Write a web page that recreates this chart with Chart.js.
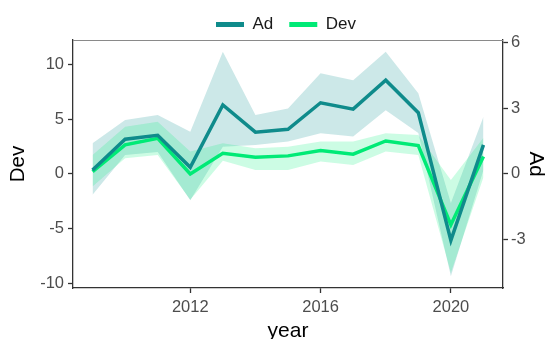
<!DOCTYPE html>
<html>
<head>
<meta charset="utf-8">
<script src="https://cdn.jsdelivr.net/npm/chart.js@4/dist/chart.umd.min.js"></script>
<style>
  html, body { margin: 0; padding: 0; background: #fff; }
  #wrap { width: 552px; height: 339px; }
</style>
</head>
<body>
<div id="wrap"><canvas id="trendChart" width="552" height="339"></canvas></div>
<script>
// data
const years = [2009, 2010, 2011, 2012, 2013, 2014, 2015, 2016, 2017, 2018, 2019, 2020, 2021];

const adMean  = [0.18, 1.58, 1.76, 0.30, 3.14, 1.90, 2.03, 3.24, 2.95, 4.27, 2.79, -3.03, 1.32];
const adUpper = [1.40, 2.45, 2.68, 1.92, 5.56, 2.68, 2.98, 4.58, 4.27, 5.56, 3.67, -1.33, 2.60];
const adLower = [-0.95, 0.86, 1.00, -1.20, 1.24, 1.32, 1.47, 1.85, 1.70, 2.90, 1.86, -4.67, 0.18];

const devMean  = [0.21, 2.64, 3.24, 0.00, 1.88, 1.52, 1.64, 2.12, 1.79, 3.00, 2.58, -4.64, 1.58];
const devUpper = [1.73, 4.30, 4.76, 2.03, 2.79, 2.33, 2.48, 2.94, 2.94, 3.70, 3.55, -0.55, 3.30];
const devLower = [-1.15, 1.42, 1.73, -2.36, 1.20, 0.36, 0.36, 1.12, 0.82, 2.03, 1.73, -9.00, -0.30];

const xTicks = [2012, 2016, 2020];
const devTicks = [-10, -5, 0, 5, 10];
const adTicks = [-3, 0, 3, 6];

const AD_COLOR = "#0f8b8b";
const DEV_COLOR = "#00ea76";
const AD_FILL = "rgba(0, 139, 139, 0.2)";
const DEV_FILL = "rgba(0, 238, 118, 0.2)";

const FONT = "'Liberation Sans', Arial, sans-serif";
const AXIS_COLOR = "#333333";
const TICK_TEXT = "#4d4d4d";

function points(values) {
  return values.map((v, i) => ({ x: years[i], y: v }));
}

function fixedTicks(list) {
  return function (scale) {
    scale.ticks = list.map((v) => ({ value: v }));
  };
}

// gray top border of the panel, fixed legend height, legend nudged right
const framePlugin = {
  id: "frame",
  beforeInit(chart) {
    const legend = chart.legend;
    const fit = legend.fit;
    legend.fit = function () {
      fit.bind(legend)();
      this.height = 40;
    };
    const draw = legend.draw;
    legend.draw = function () {
      chart.ctx.save();
      chart.ctx.translate(10, 0);
      draw.bind(legend)();
      chart.ctx.restore();
    };
  },
  afterDraw(chart) {
    const a = chart.chartArea;
    const ctx = chart.ctx;
    ctx.save();
    ctx.strokeStyle = "#8a8a8a";
    ctx.lineWidth = 1;
    ctx.beginPath();
    ctx.moveTo(a.left, a.top + 0.5);
    ctx.lineTo(a.right, a.top + 0.5);
    ctx.stroke();
    ctx.restore();
  },
};

const ctx = document.getElementById("trendChart");
new Chart(ctx, {
  type: "line",
  data: {
    datasets: [
      {
        label: "Ad",
        data: points(adMean),
        yAxisID: "y2",
        borderColor: AD_COLOR,
        backgroundColor: AD_COLOR,
        borderWidth: 3.5,
        pointRadius: 0,
        fill: false,
        order: 0,
      },
      {
        label: "Dev",
        data: points(devMean),
        yAxisID: "y",
        borderColor: DEV_COLOR,
        backgroundColor: DEV_COLOR,
        borderWidth: 3.5,
        pointRadius: 0,
        fill: false,
        order: 1,
      },
      {
        label: "Ad upper",
        data: points(adUpper),
        yAxisID: "y2",
        borderWidth: 0,
        pointRadius: 0,
        backgroundColor: AD_FILL,
        fill: "+1",
        order: 3,
      },
      {
        label: "Ad lower",
        data: points(adLower),
        yAxisID: "y2",
        borderWidth: 0,
        pointRadius: 0,
        fill: false,
        order: 3,
      },
      {
        label: "Dev upper",
        data: points(devUpper),
        yAxisID: "y",
        borderWidth: 0,
        pointRadius: 0,
        backgroundColor: DEV_FILL,
        fill: "+1",
        order: 2,
      },
      {
        label: "Dev lower",
        data: points(devLower),
        yAxisID: "y",
        borderWidth: 0,
        pointRadius: 0,
        fill: false,
        order: 2,
      },
    ],
  },
  options: {
    responsive: false,
    animation: false,
    layout: { padding: 0 },
    elements: { line: { tension: 0 } },
    plugins: {
      tooltip: { enabled: false },
      legend: {
        position: "top",
        labels: {
          color: "#1a1a1a",
          font: { family: FONT, size: 17 },
          boxWidth: 28,
          boxHeight: 5,
          padding: 16,
          generateLabels: function (chart) {
            return Chart.defaults.plugins.legend.labels
              .generateLabels(chart)
              .filter((l) => l.datasetIndex < 2)
              .map((l) => Object.assign(l, { lineWidth: 0 }));
          },
        },
      },
    },
    scales: {
      x: {
        type: "linear",
        position: "bottom",
        min: 2008.4,
        max: 2021.6,
        afterBuildTicks: fixedTicks(xTicks),
        afterFit: (scale) => { scale.height = 51; },
        grid: { drawOnChartArea: false, tickLength: 5, tickColor: AXIS_COLOR, tickWidth: 1.3 },
        border: { color: AXIS_COLOR, width: 1.3 },
        ticks: {
          color: TICK_TEXT,
          font: { family: FONT, size: 16.5 },
          padding: 5,
          maxRotation: 0,
          callback: (v) => String(v),
        },
        title: {
          display: true,
          text: "year",
          color: "#000",
          font: { family: FONT, size: 21 },
          padding: { top: 0, bottom: -5 },
        },
      },
      y: {
        position: "left",
        min: -10.4,
        max: 12.2,
        afterBuildTicks: fixedTicks(devTicks),
        afterFit: (scale) => { scale.width = 73; },
        grid: { drawOnChartArea: false, tickLength: 5, tickColor: AXIS_COLOR, tickWidth: 1.3 },
        border: { color: AXIS_COLOR, width: 1.3 },
        ticks: {
          color: TICK_TEXT,
          font: { family: FONT, size: 16.5 },
          padding: 4,
        },
        title: {
          display: true,
          text: "Dev",
          color: "#000",
          font: { family: FONT, size: 20.5 },
          padding: { top: 6, bottom: 0 },
        },
      },
      y2: {
        position: "right",
        min: -5.2,
        max: 6.1,
        afterBuildTicks: fixedTicks(adTicks),
        afterFit: (scale) => { scale.width = 49; },
        grid: { drawOnChartArea: false, tickLength: 5, tickColor: AXIS_COLOR, tickWidth: 1.3 },
        border: { color: AXIS_COLOR, width: 1.3 },
        ticks: {
          color: TICK_TEXT,
          font: { family: FONT, size: 16.5 },
          padding: 3,
        },
        title: {
          display: true,
          text: "Ad",
          color: "#000",
          font: { family: FONT, size: 20.5 },
          padding: { top: 4, bottom: 0 },
        },
      },
    },
  },
  plugins: [framePlugin],
});
</script>
</body>
</html>
